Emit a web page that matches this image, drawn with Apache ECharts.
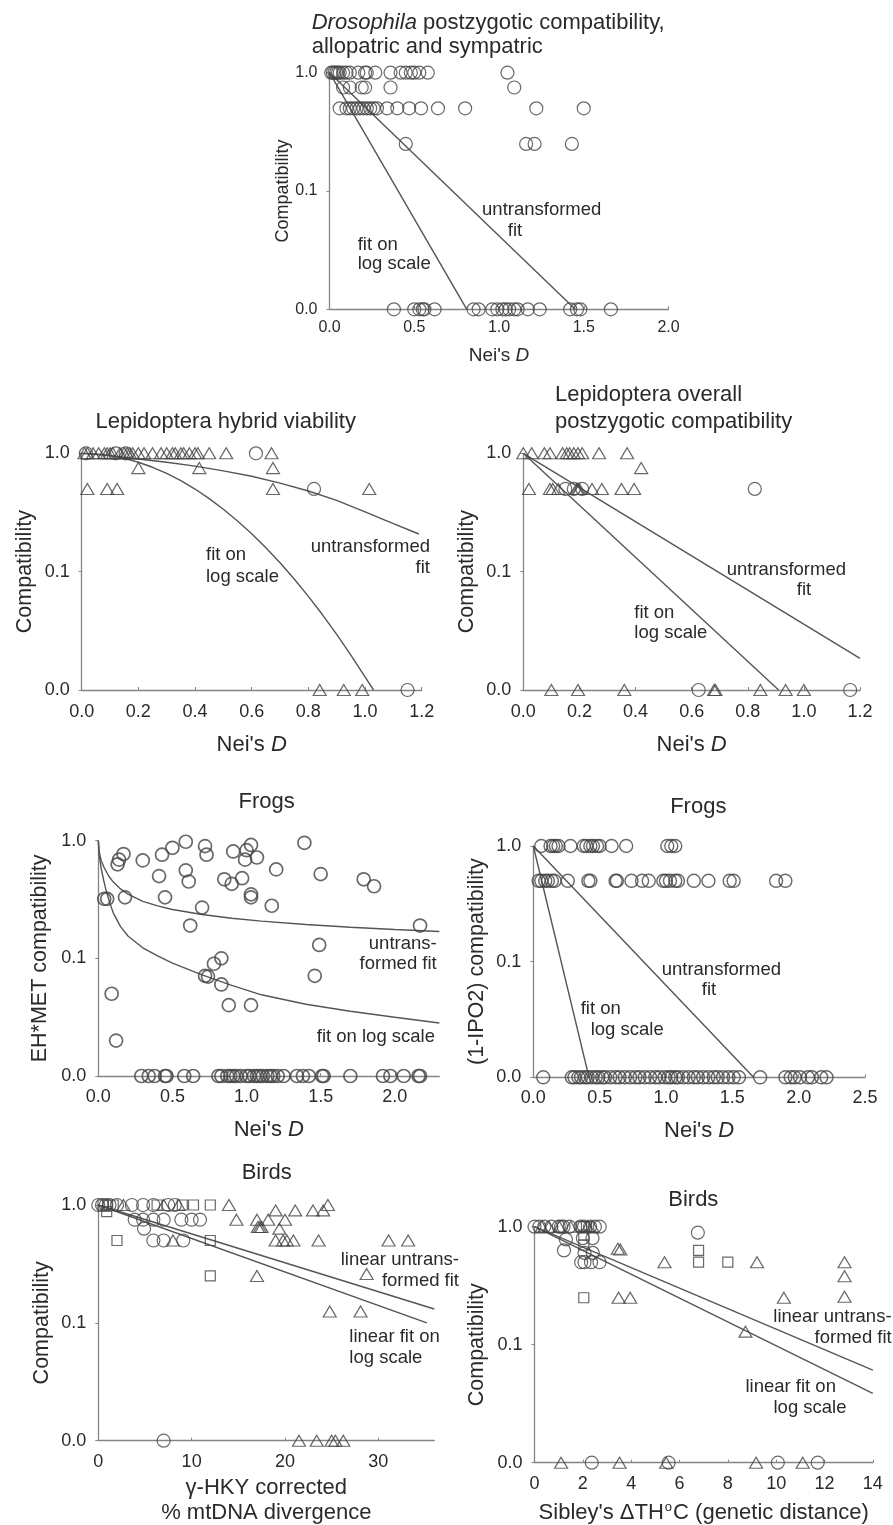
<!DOCTYPE html>
<html><head><meta charset="utf-8">
<script src="https://cdn.jsdelivr.net/npm/echarts@6/dist/echarts.min.js"></script>
<style>html,body{margin:0;padding:0;background:#fff}#c{width:893px;height:1525px}</style>
</head><body><div id="c"></div>
<script>
// ---------- tick labels ----------
const yTickValues = [0.01, 0.1, 1];
const yTickLabels = ['0.0', '0.1', '1.0'];

// ---------- Panel 1: Drosophila (circles) [Nei's D, compatibility] ----------
const droCircles = [
  [0.01,1],[0.02,1],[0.03,1],[0.04,1],[0.05,1],[0.06,1],[0.08,1],[0.10,1],[0.12,1],[0.17,1],[0.21,1],[0.22,1],[0.27,1],[0.36,1],[0.42,1],[0.45,1],[0.48,1],[0.50,1],[0.53,1],[0.58,1],[1.05,1],
  [0.08,0.75],[0.12,0.75],[0.19,0.75],[0.21,0.75],[0.36,0.75],[1.09,0.75],
  [0.06,0.5],[0.10,0.5],[0.12,0.5],[0.14,0.5],[0.16,0.5],[0.18,0.5],[0.20,0.5],[0.22,0.5],[0.24,0.5],[0.26,0.5],[0.28,0.5],[0.34,0.5],[0.40,0.5],[0.47,0.5],[0.54,0.5],[0.64,0.5],[0.80,0.5],[1.22,0.5],[1.50,0.5],
  [0.45,0.25],[1.16,0.25],[1.21,0.25],[1.43,0.25],
  [0.38,0],[0.50,0],[0.53,0],[0.55,0],[0.56,0],[0.62,0],[0.85,0],[0.88,0],[0.96,0],[0.99,0],[1.02,0],[1.04,0],[1.06,0],[1.09,0],[1.11,0],[1.17,0],[1.24,0],[1.42,0],[1.46,0],[1.48,0],[1.66,0]
];
const droFitLog = [[0,1],[0.81,0]];
const droFitUntr = [[0,1],[1.45,0]];

// ---------- Panel 2: Lepidoptera hybrid viability ----------
const lvTriangles = [
  [0.01,1],[0.02,1],[0.04,1],[0.06,1],[0.08,1],[0.09,1],[0.10,1],[0.11,1],[0.135,1],[0.15,1],[0.16,1],[0.17,1],[0.18,1],[0.20,1],[0.22,1],[0.25,1],[0.28,1],[0.30,1],[0.32,1],[0.33,1],[0.35,1],[0.36,1],[0.38,1],[0.40,1],[0.41,1],[0.45,1],[0.51,1],[0.67,1],
  [0.20,0.75],[0.415,0.75],[0.675,0.75],
  [0.02,0.5],[0.09,0.5],[0.125,0.5],[0.675,0.5],[1.015,0.5],
  [0.84,0],[0.925,0],[0.99,0]
];
const lvCircles = [[0.015,1],[0.12,1],[0.155,1],[0.615,1],[0.82,0.5],[1.15,0]];
const lvFitUntr = [[0,1],[0.1,0.955],[0.2,0.895],[0.3,0.84],[0.4,0.78],[0.5,0.71],[0.6,0.64],[0.7,0.56],[0.8,0.48],[0.9,0.40],[1.0,0.32],[1.1,0.255],[1.19,0.208]];
const lvFitLog = [[0,1],[0.05,0.989],[0.1,0.957],[0.15,0.907],[0.2,0.84],[0.25,0.762],[0.3,0.676],[0.35,0.587],[0.4,0.499],[0.45,0.414],[0.5,0.337],[0.55,0.268],[0.6,0.209],[0.65,0.159],[0.7,0.119],[0.75,0.0866],[0.8,0.0618],[0.85,0.0432],[0.9,0.0295],[0.95,0.0197],[1.0,0.0129],[1.03,0.01]];

// ---------- Panel 3: Lepidoptera overall postzygotic compatibility ----------
const loTriangles = [
  [0.0,1],[0.03,1],[0.075,1],[0.095,1],[0.14,1],[0.155,1],[0.165,1],[0.18,1],[0.195,1],[0.21,1],[0.27,1],[0.37,1],
  [0.42,0.75],
  [0.02,0.5],[0.095,0.5],[0.105,0.5],[0.125,0.5],[0.19,0.5],[0.195,0.5],[0.20,0.5],[0.245,0.5],[0.28,0.5],[0.35,0.5],[0.395,0.5],
  [0.10,0],[0.195,0],[0.36,0],[0.68,0],[0.685,0],[0.845,0],[0.935,0],[1.0,0]
];
const loCircles = [[0.15,0.5],[0.18,0.5],[0.21,0.5],[0.825,0.5],[0.625,0],[1.165,0]];
const loFitLog = [[0,1],[0.91,0]];
const loFitUntr = [[0,1],[1.2,0.0185]];

// ---------- Panel 4: Frogs, EH*MET compatibility ----------
const feCircles = [
  [0.17,0.77],[0.14,0.69],[0.13,0.63],[0.30,0.68],[0.43,0.76],[0.50,0.87],[0.59,0.98],[0.72,0.90],[0.73,0.76],[0.91,0.81],[0.99,0.69],[1.00,0.83],[1.03,0.92],[1.07,0.72],[1.39,0.96],
  [0.41,0.50],[0.59,0.56],[0.61,0.45],[0.85,0.47],[0.90,0.43],[0.97,0.48],[1.20,0.57],[1.50,0.52],[1.79,0.47],[1.86,0.41],
  [0.04,0.32],[0.06,0.32],[0.18,0.33],[0.45,0.33],[0.70,0.27],[0.62,0.19],[1.03,0.35],[1.03,0.33],[1.17,0.28],[2.17,0.19],
  [1.49,0.13],[0.83,0.10],[0.78,0.09],[0.72,0.071],[0.74,0.07],[0.83,0.06],[0.88,0.04],[1.03,0.04],[1.46,0.071],[0.09,0.05],[0.12,0.02],
  [0.29,0],[0.34,0],[0.38,0],[0.45,0],[0.46,0],[0.58,0],[0.64,0],[0.81,0],[0.83,0],[0.87,0],[0.89,0],[0.91,0],[0.93,0],[0.96,0],[1.0,0],[1.02,0],[1.05,0],[1.07,0],[1.09,0],[1.11,0],[1.14,0],[1.16,0],[1.18,0],[1.21,0],[1.25,0],[1.34,0],[1.38,0],[1.42,0],[1.51,0],[1.52,0],[1.70,0],[1.92,0],[1.97,0],[2.06,0],[2.16,0],[2.17,0]
];
const feFitUntr = [[0,1],[0.005,0.832],[0.01,0.759],[0.02,0.676],[0.04,0.589],[0.07,0.501],[0.1,0.447],[0.15,0.389],[0.2,0.351],[0.3,0.305],[0.4,0.279],[0.5,0.26],[0.7,0.236],[0.9,0.219],[1.1,0.207],[1.4,0.194],[1.7,0.184],[2.0,0.176],[2.3,0.169]];
const feFitLog = [[0,1],[0.005,0.794],[0.01,0.692],[0.02,0.575],[0.035,0.468],[0.05,0.389],[0.075,0.302],[0.1,0.245],[0.15,0.186],[0.2,0.155],[0.3,0.123],[0.4,0.105],[0.5,0.0912],[0.7,0.0724],[0.9,0.0589],[1.1,0.049],[1.4,0.0407],[1.7,0.0355],[2.0,0.0316],[2.3,0.0282]];

// ---------- Panel 5: Frogs, (1-IPO2) compatibility ----------
const fiCircles = [
  [0.06,1],[0.13,1],[0.15,1],[0.17,1],[0.19,1],[0.28,1],[0.38,1],[0.40,1],[0.43,1],[0.45,1],[0.48,1],[0.50,1],[0.59,1],[0.70,1],[1.01,1],[1.04,1],[1.07,1],
  [0.04,0.5],[0.06,0.5],[0.09,0.5],[0.11,0.5],[0.14,0.5],[0.16,0.5],[0.26,0.5],[0.415,0.5],[0.43,0.5],[0.62,0.5],[0.63,0.5],[0.74,0.5],[0.82,0.5],[0.87,0.5],[0.98,0.5],[1.00,0.5],[1.03,0.5],[1.07,0.5],[1.09,0.5],[1.21,0.5],[1.32,0.5],[1.48,0.5],[1.51,0.5],[1.83,0.5],[1.90,0.5],
  [0.075,0],[0.29,0],[0.31,0],[0.34,0],[0.36,0],[0.39,0],[0.41,0],[0.44,0],[0.47,0],[0.49,0],[0.52,0],[0.54,0],[0.58,0],[0.62,0],[0.65,0],[0.69,0],[0.73,0],[0.77,0],[0.80,0],[0.84,0],[0.88,0],[0.92,0],[0.95,0],[0.99,0],[1.02,0],[1.04,0],[1.07,0],[1.09,0],[1.13,0],[1.17,0],[1.21,0],[1.24,0],[1.28,0],[1.32,0],[1.36,0],[1.39,0],[1.43,0],[1.47,0],[1.51,0],[1.55,0],[1.71,0],[1.90,0],[1.94,0],[1.97,0],[2.01,0],[2.07,0],[2.10,0],[2.17,0],[2.21,0]
];
const fiFitLog = [[0,1],[0.42,0]];
const fiFitUntr = [[0,1],[1.66,0]];

// ---------- Panel 6: Birds, % mtDNA divergence ----------
const bmCircles = [
  [0,1],[0.4,1],[0.8,1],[1.2,1],[2.0,1],[3.6,1],[4.8,1],[5.9,1],[7.5,1],[8.2,1],
  [3.9,0.75],[4.8,0.75],[5.9,0.75],[7.0,0.75],[8.9,0.75],[10.0,0.75],[10.9,0.75],
  [4.9,0.63],[5.9,0.5],[7.0,0.5],[9.1,0.5],[7.0,0]
];
const bmSquares = [[0.5,1],[1.0,1],[1.6,1],[6.3,1],[9.0,1],[10.2,1],[12.0,1],[0.9,0.88],[2.0,0.5],[12.0,0.5],[12.0,0.25]];
const bmTriangles = [
  [2.7,1],[7.0,1],[8.6,1],[14.0,1],[24.6,1],
  [19.0,0.9],[21.1,0.9],[23.0,0.9],[24.1,0.9],
  [14.8,0.75],[17.0,0.75],[18.2,0.75],[20.0,0.75],
  [17.1,0.65],[17.3,0.65],[17.5,0.65],[19.4,0.63],
  [8.0,0.5],[19.0,0.5],[19.8,0.5],[20.2,0.5],[20.9,0.5],[23.6,0.5],[31.1,0.5],[33.2,0.5],
  [17.0,0.25],[28.75,0.26],[24.8,0.125],[28.1,0.125],
  [21.5,0],[23.4,0],[25.0,0],[25.4,0],[26.25,0]
];
const bmFitUntr = [[0,1],[36,0.131]];
const bmFitLog = [[0,1],[35.2,0.1]];

// ---------- Panel 7: Birds, Sibley's delta T ----------
const btCircles = [
  [0,1],[0.2,1],[0.4,1],[0.7,1],[1.0,1],[1.1,1],[1.2,1],[1.45,1],[1.9,1],[2.05,1],[2.3,1],[2.5,1],[2.7,1],
  [6.76,0.89],[1.3,0.78],[2.0,0.8],[2.4,0.8],[1.22,0.63],[2.07,0.6],[2.41,0.6],
  [1.93,0.5],[2.07,0.5],[2.34,0.5],[2.69,0.5],
  [2.37,0],[5.55,0],[10.07,0],[11.72,0]
];
const btSquares = [[1.95,1],[2.15,1],[2.04,0.85],[2.04,0.7],[2.04,0.25],[6.79,0.63],[6.79,0.5],[8.0,0.5]];
const btTriangles = [
  [0.3,1],[0.6,1],[1.03,1],[1.5,1],[2.2,1],[2.4,1],
  [3.45,0.65],[3.55,0.64],[5.38,0.5],[9.21,0.5],[12.83,0.5],[12.83,0.38],[12.83,0.255],
  [3.48,0.25],[3.96,0.25],[10.32,0.25],[8.73,0.129],
  [1.1,0],[3.52,0],[5.45,0],[9.17,0],[11.1,0]
];
const btFitUntr = [[0,1],[14,0.061]];
const btFitLog = [[0,1],[14,0.0387]];

// ---------- styling / layout ----------
const FONT = '"Liberation Sans", Arial, Helvetica, sans-serif';
const TEXT = '#2a2a2a';
const AXIS = '#858585';
const MARK = '#434343';
const LINE = '#555555';

const panels = [
  {left:329.5, top:72.7, w:339, h:236.6, xmax:2, xint:0.5, dec:1, tick:16, yname:'Compatibility', ynSize:18, ynGap:37, xname:"Nei's {i|D}", xnSize:19, xnGap:35, xlm:10, ylm:12},
  {left:81.7, top:453.3, w:340, h:236.7, xmax:1.2, xint:0.2, dec:1, tick:18, yname:'Compatibility', ynSize:21.5, ynGap:45, xname:"Nei's {i|D}", xnSize:22, xnGap:42, xlm:13, ylm:12},
  {left:523.3, top:453.3, w:336.7, h:236.7, xmax:1.2, xint:0.2, dec:1, tick:18, yname:'Compatibility', ynSize:21.5, ynGap:45, xname:"Nei's {i|D}", xnSize:22, xnGap:42, xlm:13, ylm:12},
  {left:98.3, top:840.7, w:341, h:235.3, xmax:2.3, xint:0.5, dec:1, tick:18, yname:'EH*MET compatibility', ynSize:21.5, ynGap:47, xname:"Nei's {i|D}", xnSize:22, xnGap:41, xlm:12, ylm:12},
  {left:533.3, top:846, w:331.7, h:231.3, xmax:2.5, xint:0.5, dec:1, tick:18, yname:'(1-IPO2) compatibility', ynSize:21.5, ynGap:45, xname:"Nei's {i|D}", xnSize:22, xnGap:41, xlm:12, ylm:12},
  {left:98.3, top:1205, w:336, h:235.7, xmax:36, xint:10, dec:0, tick:18, yname:'Compatibility', ynSize:21.5, ynGap:45, xname:'\u03b3-HKY corrected\n% mtDNA divergence', xnSize:22, xnGap:35, xlm:12, ylm:12},
  {left:534.5, top:1226.7, w:338.3, h:236, xmax:14, xint:2, dec:0, tick:18, yname:'Compatibility', ynSize:21.5, ynGap:46, xname:"Sibley's \u0394TH{s|o}C (genetic distance)", xnSize:22, xnGap:38, xlm:12, ylm:12}
];

const titles = [
  {text:'{i|Drosophila} postzygotic compatibility,\nallopatric and sympatric', left:311.7, top:11, align:'left', lh:24},
  {text:'Lepidoptera hybrid viability', left:225.7, top:408.7, align:'center', lh:26},
  {text:'Lepidoptera overall\npostzygotic compatibility', left:555, top:381.7, align:'left', lh:26.7},
  {text:'Frogs', left:266.7, top:788.7, align:'center', lh:26},
  {text:'Frogs', left:698.3, top:793.7, align:'center', lh:26},
  {text:'Birds', left:266.7, top:1160.3, align:'center', lh:26},
  {text:'Birds', left:693.3, top:1187, align:'center', lh:26}
];

const notes = [
  {t:'untransformed', x:541.7, y:210, a:'center'}, {t:'fit', x:515, y:231, a:'center'},
  {t:'fit on', x:357.7, y:245, a:'left'}, {t:'log scale', x:357.7, y:264.3, a:'left'},
  {t:'fit on', x:206, y:555, a:'left'}, {t:'log scale', x:206, y:576.7, a:'left'},
  {t:'untransformed', x:430, y:546.7, a:'right'}, {t:'fit', x:430, y:568.3, a:'right'},
  {t:'untransformed', x:726.7, y:570, a:'left'}, {t:'fit', x:804, y:590, a:'center'},
  {t:'fit on', x:634.3, y:612.7, a:'left'}, {t:'log scale', x:634.3, y:633.3, a:'left'},
  {t:'untrans-', x:436.7, y:944.3, a:'right'}, {t:'formed fit', x:436.7, y:964, a:'right'},
  {t:'fit on log scale', x:435, y:1036.7, a:'right'},
  {t:'untransformed', x:661.7, y:970, a:'left'}, {t:'fit', x:709, y:990, a:'center'},
  {t:'fit on', x:580.7, y:1009.3, a:'left'}, {t:'log scale', x:590.7, y:1030, a:'left'},
  {t:'linear untrans-', x:459, y:1260, a:'right'}, {t:'formed fit', x:459, y:1281, a:'right'},
  {t:'linear fit on', x:349.3, y:1337.3, a:'left'}, {t:'log scale', x:349.3, y:1358.3, a:'left'},
  {t:'linear untrans-', x:773.3, y:1316.7, a:'left'}, {t:'formed fit', x:891.7, y:1337.7, a:'right'},
  {t:'linear fit on', x:790.7, y:1387.3, a:'center'}, {t:'log scale', x:810, y:1408.3, a:'center'}
];

// zero compatibility is drawn on the "0.0" baseline of the log axis
function plotY(c) { return c <= 0 ? yTickValues[0] : c; }
function yLabel(v) {
  const i = yTickValues.findIndex(t => Math.abs(Math.log10(v) - Math.log10(t)) < 1e-6);
  return i >= 0 ? yTickLabels[i] : '';
}

function scat(gi, data, sym, size, bw) {
  return {type:'scatter', xAxisIndex:gi, yAxisIndex:gi, silent:true, z:3,
    data:data.map(p => [p[0], plotY(p[1])]), symbol:sym, symbolSize:size,
    itemStyle:{color:'rgba(255,255,255,0)', borderColor:MARK, borderWidth:bw}};
}
function fit(gi, data) {
  return {type:'line', xAxisIndex:gi, yAxisIndex:gi, silent:true, z:2,
    data:data.map(p => [p[0], plotY(p[1])]), showSymbol:false, symbol:'none', smooth:false,
    lineStyle:{color:LINE, width:1.4}};
}

const CIRC = 13, TRI = [13, 11], SQ = 10;
const series = [
  fit(0, droFitLog), fit(0, droFitUntr), scat(0, droCircles, 'circle', CIRC, 1.2),
  fit(1, lvFitUntr), fit(1, lvFitLog), scat(1, lvTriangles, 'triangle', TRI, 1.2), scat(1, lvCircles, 'circle', CIRC, 1.2),
  fit(2, loFitLog), fit(2, loFitUntr), scat(2, loTriangles, 'triangle', TRI, 1.2), scat(2, loCircles, 'circle', CIRC, 1.2),
  fit(3, feFitUntr), fit(3, feFitLog), scat(3, feCircles, 'circle', CIRC, 1.7),
  fit(4, fiFitLog), fit(4, fiFitUntr), scat(4, fiCircles, 'circle', CIRC, 1.4),
  fit(5, bmFitUntr), fit(5, bmFitLog), scat(5, bmCircles, 'circle', CIRC, 1.2), scat(5, bmSquares, 'rect', SQ, 1.2), scat(5, bmTriangles, 'triangle', TRI, 1.2),
  fit(6, btFitUntr), fit(6, btFitLog), scat(6, btCircles, 'circle', CIRC, 1.2), scat(6, btSquares, 'rect', SQ, 1.2), scat(6, btTriangles, 'triangle', TRI, 1.2)
];

const richBase = (size) => ({
  i:{fontStyle:'italic', fontSize:size, fontFamily:FONT, color:TEXT},
  s:{fontSize:Math.round(size*0.6), fontFamily:FONT, color:TEXT, verticalAlign:'top', padding:[0,1,0,1]}
});

const option = {
  animation:false,
  backgroundColor:'#ffffff',
  textStyle:{fontFamily:FONT},
  title: titles.map(t => ({
    text:t.text, left:t.left, top:t.top, padding:0, textAlign:t.align,
    textStyle:{fontSize:22, fontWeight:'normal', color:TEXT, fontFamily:FONT, lineHeight:t.lh,
      rich:{i:{fontStyle:'italic', fontSize:22, fontFamily:FONT, color:TEXT, lineHeight:t.lh}}}
  })),
  grid: panels.map(p => ({left:p.left, top:p.top, width:p.w, height:p.h, containLabel:false, outerBoundsMode:'none'})),
  xAxis: panels.map((p, i) => ({
    type:'value', gridIndex:i, min:0, max:p.xmax, interval:p.xint, position:'bottom',
    name:p.xname, nameLocation:'middle', nameGap:p.xnGap, nameMoveOverlap:false,
    nameTextStyle:{fontSize:p.xnSize, color:TEXT, fontFamily:FONT, lineHeight:p.xnSize + 3, align:'center', rich:richBase(p.xnSize)},
    axisLine:{onZero:false, lineStyle:{color:AXIS, width:1.3}},
    axisTick:{show:true, inside:true, length:3, lineStyle:{color:AXIS, width:1}},
    axisLabel:{fontSize:p.tick, color:TEXT, margin:p.xlm,
      showMaxLabel:Math.abs(p.xmax / p.xint - Math.round(p.xmax / p.xint)) < 1e-9,
      formatter:v => v.toFixed(p.dec)},
    splitLine:{show:false}
  })),
  yAxis: panels.map((p, i) => ({
    type:'log', logBase:10, gridIndex:i, min:yTickValues[0], max:yTickValues[yTickValues.length - 1],
    name:p.yname, nameLocation:'middle', nameGap:p.ynGap, nameMoveOverlap:false,
    nameTextStyle:{fontSize:p.ynSize, color:TEXT, fontFamily:FONT, lineHeight:p.ynSize + 1},
    axisLine:{show:true, onZero:false, lineStyle:{color:AXIS, width:1.3}},
    axisTick:{show:true, length:3, lineStyle:{color:AXIS, width:1}},
    axisLabel:{fontSize:p.tick, color:TEXT, margin:p.ylm, formatter:yLabel},
    splitLine:{show:false}, minorTick:{show:false}
  })),
  graphic: notes.map(n => ({
    type:'text', silent:true,
    style:{x:n.x, y:n.y, text:n.t, align:n.a, textAlign:n.a, verticalAlign:'middle', textVerticalAlign:'middle',
      fill:TEXT, font:'18.5px ' + FONT}
  })),
  series: series
};

const chart = echarts.init(document.getElementById('c'), null, {renderer:'canvas', width:893, height:1525});
chart.setOption(option);
</script>
</body></html>
